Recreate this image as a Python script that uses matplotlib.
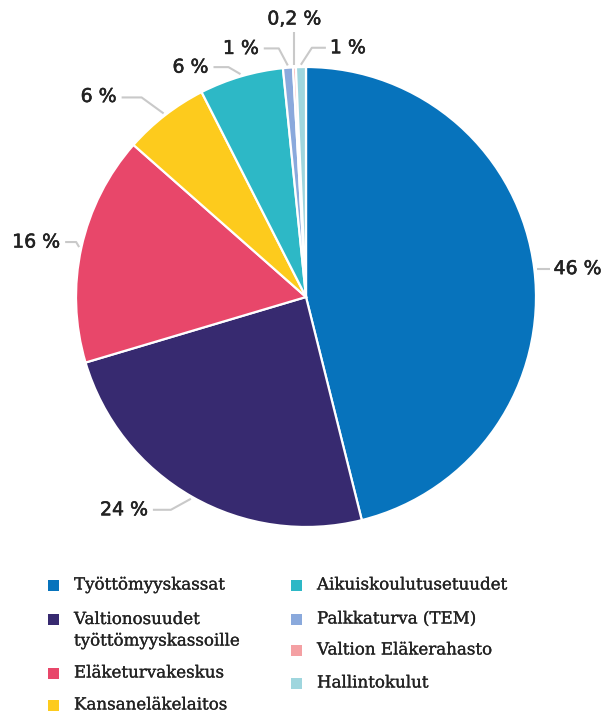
import numpy as np
import matplotlib
matplotlib.use("Agg")
import matplotlib.pyplot as plt
import matplotlib.patheffects as pe
from matplotlib.patches import Rectangle

# ---- data ----
categories = ["Työttömyyskassat", "Valtionosuudet\ntyöttömyyskassoille", "Eläketurvakeskus",
              "Kansaneläkelaitos", "Aikuiskoulutusetuudet", "Palkkaturva (TEM)",
              "Valtion Eläkerahasto", "Hallintokulut"]
shares = [46.1, 24.3, 16.1, 6.0, 5.9, 0.7, 0.2, 0.7]
share_labels = ["46 %", "24 %", "16 %", "6 %", "6 %", "1 %", "0,2 %", "1 %"]
colors = ["#0773BC", "#372A70", "#E8476A", "#FDCB1D", "#2DB8C6", "#8AA9DC", "#F4A0A3", "#9FD6DE"]

# ---- layout (pixel-like coordinates, y up) ----
W, H = 605, 713
fig = plt.figure(figsize=(W / 100, H / 100), dpi=100)
ax = fig.add_axes([0, 0, 1, 1])

cx, cy, R = 306, H - 297, 230
wedges, _ = ax.pie(shares, colors=colors, startangle=90, counterclock=False,
                   center=(cx, cy), radius=R, frame=True,
                   wedgeprops=dict(edgecolor="white", linewidth=1.6))
ax.set_xlim(0, W)
ax.set_ylim(0, H)
ax.set_aspect("equal")
ax.axis("off")

txt_col = "#222222"
label_font = dict(fontsize=13.6, color=txt_col, family="DejaVu Sans",
                  path_effects=[pe.withStroke(linewidth=0.4, foreground=txt_col)])

leaders = [
    dict(elbow=(2, 0), end=13, ha="left", tdy=0),
    dict(elbow=(-20, -11), end=-38, ha="right", tdy=0),
    dict(elbow=(-3, 5), end=-14, ha="right", tdy=0),
    dict(elbow=(-22, 16), end=-42, ha="right", tdy=1),
    dict(elbow=(-12, 7), end=-27, ha="right", tdy=0),
    dict(elbow=(-9, 17), end=-24, ha="right", tdy=0),
    dict(elbow=(0, 33), end=0, ha="center", tdy=13),
    dict(elbow=(11, 17), end=25, ha="left", tdy=0),
]
lc = "#C9C9C9"
for w, lab, ld in zip(wedges, share_labels, leaders):
    ang = np.deg2rad((w.theta1 + w.theta2) / 2)
    ax_ = cx + R * 1.01 * np.cos(ang)
    ay_ = cy + R * 1.01 * np.sin(ang)
    ex, ey = ax_ + ld["elbow"][0], ay_ + ld["elbow"][1]
    if ld["ha"] == "center":
        ax.plot([ax_, ex], [ay_, ey], color=lc, lw=1.5, solid_capstyle="butt")
        ax.text(ex, ey + ld["tdy"], lab, ha="center", va="center", **label_font)
    else:
        tx = ax_ + ld["end"]
        ax.plot([ax_, ex, tx], [ay_, ey, ey], color=lc, lw=1.5, solid_capstyle="butt")
        off = 4 if ld["ha"] == "left" else -5
        ax.text(tx + off, ey + ld["tdy"], lab, ha=ld["ha"], va="center", **label_font)

# ---- legend ----
col_x = [48, 291]
text_dx = 26
rows_y = [[585, 619, 673, 705], [585, 619, 650, 683]]
order = [[0, 1, 2, 3], [4, 5, 6, 7]]
leg_font = dict(fontsize=12, family="DejaVu Serif", color=txt_col,
                path_effects=[pe.withStroke(linewidth=0.2, foreground=txt_col)])
for c in range(2):
    for r, idx in enumerate(order[c]):
        y = H - rows_y[c][r]
        ax.add_patch(Rectangle((col_x[c], y - 5.5), 11, 11, facecolor=colors[idx], edgecolor="none"))
        txt = categories[idx]
        if "\n" in txt:
            ax.text(col_x[c] + text_dx, y + 8, txt, ha="left", va="top",
                    linespacing=1.35, **leg_font)
        else:
            ax.text(col_x[c] + text_dx, y, txt, ha="left", va="center", **leg_font)

fig.savefig("out.png", dpi=100)
